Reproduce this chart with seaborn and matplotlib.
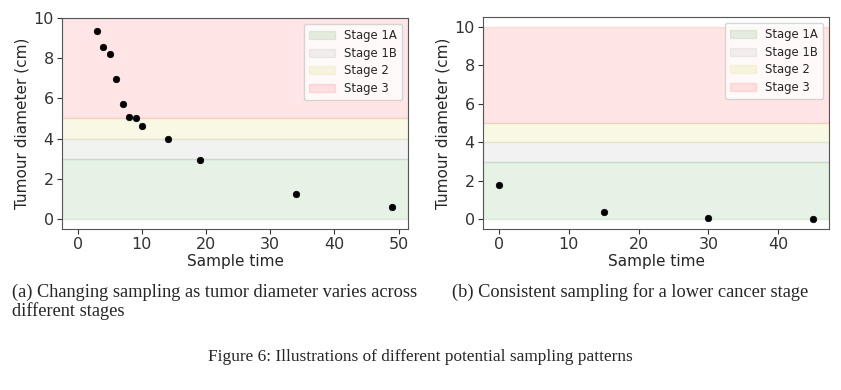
"""
Figure 6: tumour diameter vs sample time for two sampling patterns
"""

import numpy as np
import pandas as pd
import matplotlib
matplotlib.use("Agg")
import matplotlib.pyplot as plt
import seaborn as sns

# 数据
times_a = [3, 4, 5, 6, 7, 8, 9, 10, 14, 19, 34, 49]
diam_a = [9.33, 8.57, 8.22, 6.98, 5.73, 5.08, 5.02, 4.65, 3.97, 2.92, 1.25, 0.58]

times_b = [0, 15, 30, 45]
diam_b = [1.76, 0.38, 0.05, 0.0]

stage_names = ["Stage 1A", "Stage 1B", "Stage 2", "Stage 3"]
stage_low = [0, 3, 4, 5]
stage_high = [3, 4, 5, 10]
stage_colors = ["green", "grey", "y", "red"]

caption_a = "(a) Changing sampling as tumor diameter varies across\ndifferent stages"
caption_b = "(b) Consistent sampling for a lower cancer stage"
fig_caption = "Figure 6: Illustrations of different potential sampling patterns"

sns.set_style("ticks")
plt.rcParams["font.family"] = ["DejaVu Sans"]


def draw_panel(ax, times, diam, xlim, ylim):
    for name, lo, hi, col in zip(stage_names, stage_low, stage_high, stage_colors):
        ax.axhspan(lo, hi, color=col, alpha=0.1, label=name)
    df = pd.DataFrame({"time": times, "diameter": diam})
    sns.scatterplot(data=df, x="time", y="diameter", ax=ax, color="black",
                    s=22, edgecolor="black", linewidth=0.5, zorder=3)
    ax.set_xlim(*xlim)
    ax.set_ylim(*ylim)
    ax.set_xlabel("Sample time", fontsize=11, labelpad=1)
    ax.set_ylabel("Tumour diameter (cm)", fontsize=11, labelpad=3)
    ax.tick_params(labelsize=11.5, colors="#333333", length=3.5, pad=2.5)
    for sp in ax.spines.values():
        sp.set_color("#555555")
        sp.set_visible(True)
    ax.legend(loc="upper right", fontsize=8.4, frameon=True, handlelength=2.2,
              borderpad=0.45, labelspacing=0.4, fancybox=True)


fig = plt.figure(figsize=(8.41, 3.9), dpi=100)

ax1 = fig.add_axes([62 / 841, 1 - 229 / 390, 346 / 841, 211 / 390])
draw_panel(ax1, times_a, diam_a, (-2.45, 51.45), (-0.5, 10))
ax1.set_xticks([0, 10, 20, 30, 40, 50])

ax2 = fig.add_axes([483 / 841, 1 - 229 / 390, 346 / 841, 212 / 390])
draw_panel(ax2, times_b, diam_b, (-2.25, 47.25), (-0.5, 10.5))
ax2.set_xticks([0, 10, 20, 30, 40])

serif = ["Liberation Serif", "DejaVu Serif"]
fig.text(12 / 841, 1 - 301.5 / 390, caption_a, fontsize=13.2, family=serif,
         va="center", linespacing=1.1)
fig.text(452 / 841, 1 - 292 / 390, caption_b, fontsize=13.2, family=serif,
         va="center")
fig.text(0.5, 1 - 357 / 390, fig_caption, fontsize=12.4, family=serif,
         ha="center", va="center")

plt.savefig("out.png", dpi=100)
